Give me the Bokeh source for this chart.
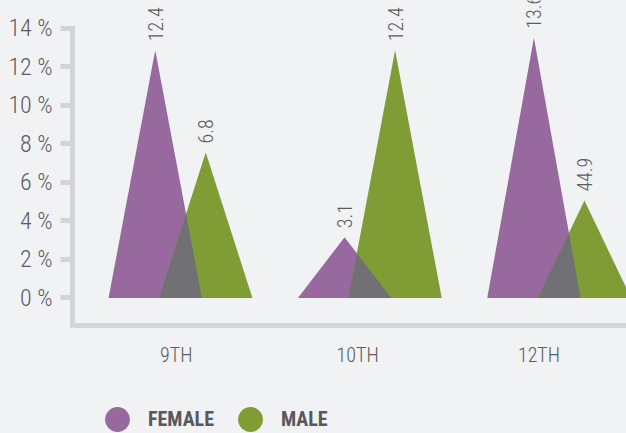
import numpy as np
from bokeh.plotting import figure
from bokeh.layouts import column
from bokeh.models import Range1d, LinearAxis, FixedTicker, Legend, LegendItem, ColumnDataSource
from bokeh.core.properties import value
from bokeh.embed import file_html
from bokeh.resources import INLINE

# ---- data ----
categories = ["9TH", "10TH", "12TH"]
female = [12.85, 3.15, 13.5]
male = [7.55, 12.85, 5.05]
female_labels = ["12.4", "3.1", "13.6"]
male_labels = ["6.8", "12.4", "44.9"]
y_ticks = [0, 2, 4, 6, 8, 10, 12, 14]

# ---- style ----
PURPLE = "#97699f"
GREEN = "#7f9c35"
GRAY = "#717075"
BG = "#f1f2f4"
AXIS = "#d3d4d6"
TEXT = "#5b5b60"
FONT = "Roboto Condensed Light, Roboto Condensed, DejaVu Sans Condensed, Roboto"
BOLD_FONT = "Roboto Condensed, DejaVu Sans Condensed, Roboto"

OFFSET = 0.1334   # distance of each triangle from the category centre
HALF = 0.2465     # half width of a triangle's base

idx = np.arange(len(categories))
cf = idx - OFFSET
cm = idx + OFFSET
hf = np.array(female, dtype=float)
hm = np.array(male, dtype=float)

f_xs = [[c - HALF, c, c + HALF] for c in cf]
f_ys = [[0, h, 0] for h in hf]
m_xs = [[c - HALF, c, c + HALF] for c in cm]
m_ys = [[0, h, 0] for h in hm]

# overlap of the two triangles (right edge of female with left edge of male)
xi = (hf * (cf + HALF) + hm * (cm - HALF)) / (hf + hm)
yi = hf * (cf + HALF - xi) / HALF
o_xs = [[a - HALF, x, b + HALF] for a, x, b in zip(cm, xi, cf)]
o_ys = [[0, y, 0] for y in yi]

p = figure(width=626, height=380,
           x_range=Range1d(-0.5704, 2.3556), y_range=Range1d(-1.426, 15.426),
           x_axis_type=None, y_axis_type=None,
           output_backend="svg", toolbar_location=None,
           min_border_left=72, min_border_right=0, min_border_top=0, min_border_bottom=55,
           background_fill_color=BG, border_fill_color=BG, outline_line_color=None)

p.patches(f_xs, f_ys, fill_color=PURPLE, line_color=None)
p.patches(m_xs, m_ys, fill_color=GREEN, line_color=None)
p.patches(o_xs, o_ys, fill_color=GRAY, line_color=None)

lab_src = ColumnDataSource(dict(x=list(cf) + list(cm), y=female + male,
                                t=female_labels + male_labels))
p.text(x="x", y="y", text="t", source=lab_src, angle=np.pi / 2,
       text_align="left", text_baseline="middle", y_offset=-9,
       text_font=value(FONT), text_font_size="20px", text_color=TEXT)

yaxis = LinearAxis(ticker=FixedTicker(ticks=y_ticks), bounds=(-1.426, 14),
                   major_label_overrides={t: f"{t} %" for t in y_ticks},
                   axis_line_color=AXIS, axis_line_width=5, axis_line_cap="square",
                   major_tick_line_color=AXIS, major_tick_line_width=5,
                   major_tick_out=12, major_tick_in=0, minor_tick_line_color=None,
                   major_label_text_font=FONT, major_label_text_font_size="24px",
                   major_label_text_color=TEXT, major_label_standoff=8)
p.add_layout(yaxis, "left")

p.extra_x_ranges = {"lab": Range1d(-0.5724, 2.4825)}
xaxis = LinearAxis(x_range_name="lab", ticker=FixedTicker(ticks=[int(i) for i in idx]),
                   major_label_overrides={int(i): c for i, c in zip(idx, categories)},
                   axis_line_color=AXIS, axis_line_width=5, axis_line_cap="square",
                   major_tick_line_color=None, major_tick_out=0, major_tick_in=0,
                   minor_tick_line_color=None,
                   major_label_text_font=FONT, major_label_text_font_size="20px",
                   major_label_text_color=TEXT, major_label_standoff=17)
p.add_layout(xaxis, "below")

# ---- legend strip below the chart ----
leg = figure(width=626, height=53, x_axis_type=None, y_axis_type=None,
             output_backend="svg", toolbar_location=None,
             min_border_left=72, min_border_right=0, min_border_top=0, min_border_bottom=0,
             background_fill_color=BG, border_fill_color=BG, outline_line_color=None)
rf = leg.scatter(cf, female, size=0, marker="circle", fill_color=PURPLE, line_color=None)
rm = leg.scatter(cm, male, size=0, marker="circle", fill_color=GREEN, line_color=None)
legend = Legend(items=[LegendItem(label="FEMALE", renderers=[rf]),
                       LegendItem(label="MALE", renderers=[rm])],
                orientation="horizontal", location=(14, -17),
                glyph_width=62, glyph_height=62, label_standoff=0, spacing=5,
                padding=0, margin=0, background_fill_alpha=0, border_line_alpha=0,
                label_text_font=BOLD_FONT, label_text_font_style="bold",
                label_text_font_size="20px", label_text_color="#58585d")
leg.add_layout(legend, "center")

layout = column(p, leg, spacing=0, styles={"background-color": BG})
open("out.html", "w").write(file_html(layout, INLINE))
